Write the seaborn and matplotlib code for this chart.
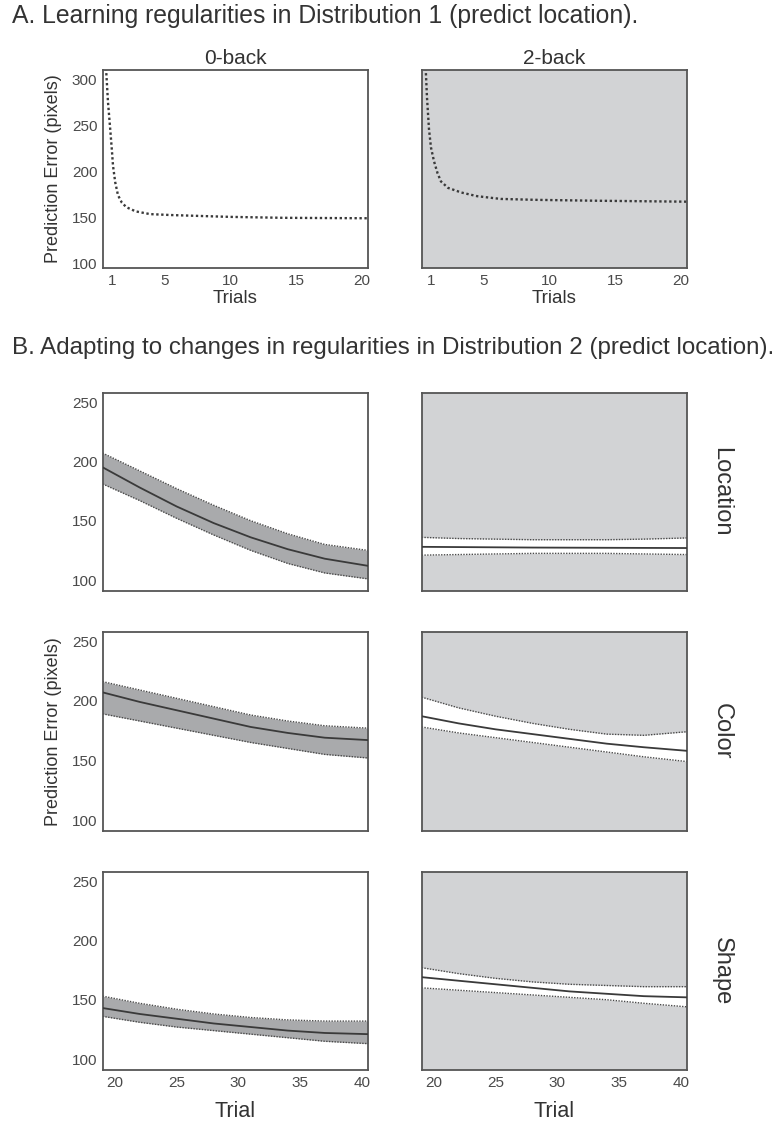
import numpy as np
import pandas as pd
import matplotlib
matplotlib.use("Agg")
import matplotlib.pyplot as plt
import seaborn as sns

# ---------------- data ----------------
# Panel A: learning curves (trial vs prediction error)
trials_a0 = [0.55, 0.7, 0.85, 1.0, 1.08, 1.25, 1.46, 1.75, 2.1, 2.8, 3.9, 5.5, 7.7, 10, 14, 20.5]
err_a0 = [312, 275, 249, 222, 206, 188, 174, 166, 161, 156.5, 153.5, 152.5, 151.5, 150.5, 149.5, 149]
trials_a2 = [0.6, 0.7, 0.85, 1.0, 1.23, 1.5, 1.76, 2.3, 3.3, 4.5, 6.3, 9, 13.8, 20.5]
err_a2 = [312, 280, 246, 226, 211, 198, 189, 182, 177, 173, 170, 169, 168, 167]

# Panel B: model fits with confidence bands, trials 19-40.5
trials_b = [19, 22, 25, 28, 31, 34, 37, 40.5]
# 0-back (left column)
loc0_mean = [195, 178, 162, 148, 136, 126, 118, 112]
loc0_hi = [207, 192, 177, 163, 150, 139, 130, 125]
loc0_lo = [181, 167, 152, 138, 125, 114, 106, 101]
col0_mean = [207, 199, 192, 185, 178, 173, 169, 167]
col0_hi = [216, 209, 202, 195, 188, 183, 179, 177]
col0_lo = [189, 183, 177, 171, 165, 160, 155, 152]
shp0_mean = [143, 138, 134, 130, 127, 124, 122, 121]
shp0_hi = [153, 147, 142, 138, 135, 133, 132, 132]
shp0_lo = [136, 131, 127, 124, 121, 118, 115, 113]
# 2-back (right column)
loc2_mean = [128, 127.8, 127.6, 127.4, 127.3, 127.2, 127.1, 127]
loc2_hi = [136, 135, 134.5, 134, 134, 134, 134.5, 135.5]
loc2_lo = [121, 121.5, 122, 122.5, 122.5, 122.5, 122, 121.5]
col2_mean = [187, 181, 176, 172, 168, 164, 161, 158]
col2_hi = [203, 194, 187, 181, 176, 172, 171, 174]
col2_lo = [178, 173, 169, 165, 161, 157, 153, 149]
shp2_mean = [169, 166, 163, 160, 157, 155, 153, 152]
shp2_hi = [177, 172, 168, 165, 163, 162, 161, 161]
shp2_lo = [160, 158, 156, 154, 152, 150, 147, 144]

row_labels = ["Location", "Color", "Shape"]
col_titles = ["0-back", "2-back"]
xticks_a = [1, 5, 10, 15, 20]
yticks_a = [100, 150, 200, 250, 300]
xticks_b = [20, 25, 30, 35, 40]
yticks_b = [100, 150, 200, 250]

# ---------------- style ----------------
sns.set_theme(style="white")
plt.rcParams["font.family"] = ["Liberation Sans", "DejaVu Sans"]

W, H = 779, 1131
fig = plt.figure(figsize=(W / 100, H / 100), dpi=100)

SPINE = "#555555"
TXT = "#333333"
TICK = "#4a4a4a"
BAND_DARK = "#a9aaac"
FACE_GRAY = "#d2d3d5"
LINE = "#3a3a3a"


def px_axes(x0, y0, x1, y1):
    return fig.add_axes([x0 / W, 1 - y1 / H, (x1 - x0) / W, (y1 - y0) / H])


def style_axes(ax):
    for s in ax.spines.values():
        s.set_color(SPINE)
        s.set_linewidth(1.3)
    ax.tick_params(axis="both", length=0, pad=4, labelsize=11, labelcolor=TICK)
    ax.grid(False)
    ax.set_xlabel("")
    ax.set_ylabel("")


def ftext(x, y, s, **kw):
    fig.text(x / W, 1 - y / H, s, **kw)


# ---------------- Panel A ----------------
ftext(12, 16, "A. Learning regularities in Distribution 1 (predict location).",
      fontsize=17.8, color=TXT, ha="left", va="center")

colsx = [(103, 368), (422, 687)]
a_data = [(trials_a0, err_a0), (trials_a2, err_a2)]
for j in range(2):
    x0, x1 = colsx[j]
    ax = px_axes(x0, 70, x1, 268)
    df = pd.DataFrame({"Trial": a_data[j][0], "Err": a_data[j][1]})
    sns.lineplot(data=df, x="Trial", y="Err", ax=ax, color=LINE,
                 linestyle=(0, (1, 1.1)), linewidth=1.7)
    ax.set_xlim(0.32, 20.46)
    ax.set_ylim(95, 310)
    ax.set_xticks(xticks_a)
    ax.set_yticks(yticks_a)
    style_axes(ax)
    if j == 1:
        ax.set_facecolor(FACE_GRAY)
        ax.set_yticklabels([])
    else:
        ax.set_ylabel("Prediction Error (pixels)", fontsize=13, color=TXT, labelpad=7)
    ax.set_xlabel("Trials", fontsize=13.5, color=TXT, labelpad=2)
    ax.set_title(col_titles[j], fontsize=15, color=TXT, pad=4)

# ---------------- Panel B ----------------
ftext(12, 348, "B. Adapting to changes in regularities in Distribution 2 (predict location).",
      fontsize=17.4, color=TXT, ha="left", va="center")

rows_y = [(393, 591), (632, 831), (872, 1070)]
b_data = [
    [(loc0_mean, loc0_lo, loc0_hi), (loc2_mean, loc2_lo, loc2_hi)],
    [(col0_mean, col0_lo, col0_hi), (col2_mean, col2_lo, col2_hi)],
    [(shp0_mean, shp0_lo, shp0_hi), (shp2_mean, shp2_lo, shp2_hi)],
]
for i in range(3):
    y0, y1 = rows_y[i]
    for j in range(2):
        x0, x1 = colsx[j]
        ax = px_axes(x0, y0, x1, y1)
        mean, lo, hi = b_data[i][j]
        df = pd.DataFrame({"Trial": trials_b, "mean": mean, "lo": lo, "hi": hi})
        if j == 0:
            ax.set_facecolor("white")
            ax.fill_between(df["Trial"], df["lo"], df["hi"], color=BAND_DARK, lw=0, zorder=1)
        else:
            ax.set_facecolor(FACE_GRAY)
            ax.fill_between(df["Trial"], df["lo"], df["hi"], color="white", lw=0, zorder=1)
        sns.lineplot(data=df, x="Trial", y="lo", ax=ax, color="#4a4a4a",
                     linestyle=(0, (1, 1)), linewidth=1.0, zorder=2)
        sns.lineplot(data=df, x="Trial", y="hi", ax=ax, color="#4a4a4a",
                     linestyle=(0, (1, 1)), linewidth=1.0, zorder=2)
        sns.lineplot(data=df, x="Trial", y="mean", ax=ax, color=LINE,
                     linewidth=1.3, zorder=3)
        ax.set_xlim(19.03, 40.5)
        ax.set_ylim(90.8, 257.6)
        ax.set_xticks(xticks_b)
        ax.set_yticks(yticks_b)
        style_axes(ax)
        if j == 1:
            ax.set_yticklabels([])
        if i < 2:
            ax.set_xticklabels([])
        else:
            ax.set_xlabel("Trial", fontsize=15.5, color=TXT, labelpad=8)
        if j == 0 and i == 1:
            ax.set_ylabel("Prediction Error (pixels)", fontsize=13, color=TXT, labelpad=7)
        if j == 1:
            ax.text(1.13, 0.5, row_labels[i], transform=ax.transAxes, rotation=270,
                    ha="center", va="center", fontsize=17, color=TXT)

fig.savefig("out.png", dpi=100)
